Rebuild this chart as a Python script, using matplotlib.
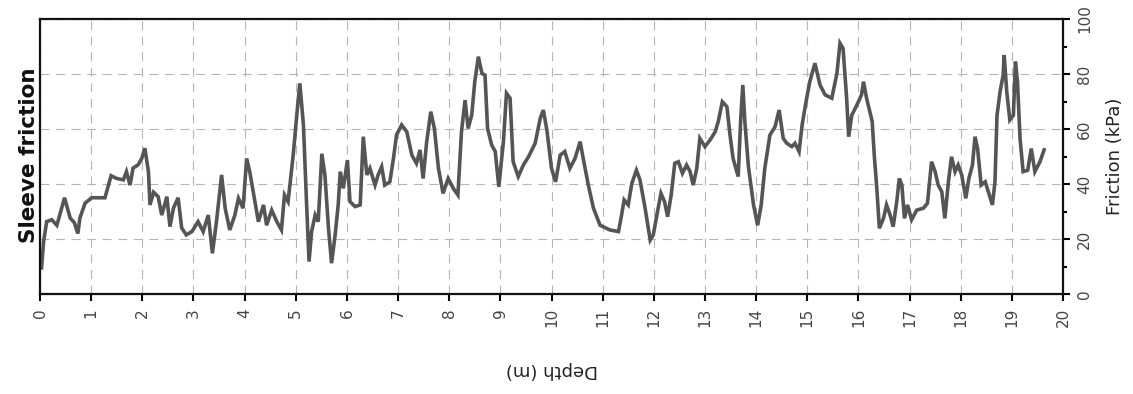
import matplotlib
matplotlib.use("Agg")
import matplotlib.pyplot as plt
from matplotlib.ticker import MultipleLocator

depth = [0.03, 0.07, 0.13, 0.23, 0.33, 0.48, 0.59, 0.67, 0.74, 0.78, 0.88, 1.01, 1.27, 1.39, 1.5,
         1.63, 1.69, 1.76, 1.82, 1.92, 1.99, 2.05, 2.12, 2.15, 2.22, 2.31, 2.38, 2.48, 2.54, 2.61,
         2.7, 2.77, 2.86, 2.97, 3.09, 3.19, 3.29, 3.37, 3.45, 3.55, 3.62, 3.71, 3.81, 3.88, 3.97,
         4.04, 4.1, 4.27, 4.37, 4.43, 4.53, 4.63, 4.72, 4.78, 4.85, 4.95, 5.02, 5.08, 5.15, 5.21,
         5.26, 5.31, 5.38, 5.44, 5.51, 5.57, 5.64, 5.7, 5.77, 5.83, 5.87, 5.93, 6.01, 6.06, 6.16,
         6.26, 6.32, 6.39, 6.45, 6.55, 6.61, 6.68, 6.74, 6.84, 6.91, 6.97, 7.07, 7.17, 7.27, 7.36,
         7.43, 7.49, 7.56, 7.64, 7.71, 7.79, 7.88, 7.98, 8.08, 8.17, 8.24, 8.31, 8.37, 8.44, 8.5,
         8.57, 8.64, 8.7, 8.75, 8.83, 8.9, 8.97, 9.06, 9.12, 9.19, 9.25, 9.35, 9.45, 9.55, 9.68,
         9.78, 9.84, 9.91, 10.0, 10.08, 10.17, 10.26, 10.36, 10.46, 10.56, 10.62, 10.72, 10.82,
         10.95, 11.14, 11.31, 11.37, 11.42, 11.5, 11.57, 11.66, 11.73, 11.83, 11.93, 11.99, 12.06,
         12.14, 12.21, 12.27, 12.34, 12.41, 12.48, 12.56, 12.64, 12.71, 12.77, 12.84, 12.9, 13.0,
         13.1, 13.2, 13.26, 13.34, 13.43, 13.49, 13.55, 13.65, 13.7, 13.74, 13.78, 13.85, 13.95,
         14.03, 14.1, 14.17, 14.27, 14.37, 14.45, 14.53, 14.6, 14.7, 14.76, 14.84, 14.9, 14.97,
         15.05, 15.15, 15.25, 15.35, 15.48, 15.58, 15.64, 15.7, 15.77, 15.81, 15.87, 15.97, 16.06,
         16.1, 16.16, 16.27, 16.31, 16.36, 16.41, 16.49, 16.55, 16.62, 16.68, 16.75, 16.8, 16.85,
         16.9, 16.96, 17.04, 17.14, 17.27, 17.35, 17.43, 17.5, 17.56, 17.63, 17.69, 17.76, 17.82,
         17.89, 17.95, 18.02, 18.1, 18.16, 18.23, 18.28, 18.33, 18.4, 18.48, 18.54, 18.62, 18.67,
         18.71, 18.77, 18.83, 18.85, 18.9, 18.96, 19.03, 19.07, 19.11, 19.16, 19.22, 19.31, 19.38,
         19.45, 19.55, 19.63]
friction = [9.5, 19, 26.3, 27, 25, 35, 27.6, 26, 22, 27.6, 33, 35, 35, 43, 42,
            41.5, 44.5, 39.6, 45.8, 47, 49.3, 53, 44.5, 32.4, 37, 35.4, 28.7, 35.4, 24.5, 31.3,
            35, 24, 21.5, 22.7, 26.3, 22.7, 28.7, 14.8, 26.3, 43.3, 31.2, 23.3, 28.7, 34.8, 31.2,
            49.3, 44.5, 26.3, 32.4, 25, 30.5, 26.3, 23.3, 36, 33.6, 50.5, 65, 76.6, 61.5, 33.6,
            11.8, 22.7, 28.7, 26.3, 51, 43.3, 23.9, 11.2, 21.5, 32.4, 44.5, 38.4, 48.7, 33.6, 31.8,
            32.4, 57.2, 43.3, 45.7, 39.6, 43.3, 46.3, 39.6, 40.8, 49.3, 57.8, 61.5, 59, 50.5, 47.5,
            52.4, 42, 55.4, 66.3, 60.2, 45.7, 36.6, 42, 38.4, 36, 59, 70.5, 60.2, 65, 77.2,
            86.3, 80.2, 79.6, 60.2, 54.2, 51.8, 39, 55.4, 73, 71.2, 48.1, 42.7, 46.9, 49.9, 54.8,
            63.9, 66.9, 59.6, 45.7, 40.8, 50.5, 51.8, 45.7, 49.3, 55.4, 49.3, 39.6, 31.2,
            25, 23.3, 22.7, 28.7, 34.2, 32.4, 40.2, 45, 41.5, 31.2, 19.6, 21.5, 28.7,
            36.6, 33.6, 28.1, 36, 47.5, 48.1, 43.9, 46.9, 44.5, 39.6, 45.7, 56.6, 53.6,
            56, 59, 62.7, 69.9, 68.1, 57.8, 49.3, 42.7, 63.9, 76, 62.7, 46.3, 32.4,
            25, 32.4, 45.7, 57.8, 60.8, 66.9, 56.6, 54.8, 53.6, 54.8, 51.8, 61.5, 69.3,
            77.2, 83.9, 76, 72.4, 71.2, 80.2, 91.2, 89.3, 71.2, 57.2, 65, 68.7, 72.4,
            77.2, 71.2, 62.7, 50.5, 38.4, 23.9, 27.5, 32.4, 28.7, 24.5, 33.6, 42, 39.6,
            27.5, 32.4, 27, 30.5, 31.2, 33, 48.1, 44.5, 39.6, 37.2, 27.5, 40.8, 49.9,
            44.5, 46.9, 43.3, 34.8, 42, 46.9, 57.2, 52.9, 39.6, 40.8, 37.2, 32.4, 40.8,
            65, 73.6, 79.6, 86.9, 73.6, 63.3, 65, 84.5, 77.2, 56.6, 44.5, 45, 52.9,
            44.5, 48.1, 52.4]

depth_ticks = list(range(0, 21))
friction_ticks = [0, 20, 40, 60, 80, 100]

fig = plt.figure(figsize=(11.33, 3.94), dpi=100)
ax = fig.add_axes([40 / 1133, 100 / 394, 1023 / 1133, 275 / 394])

ax.plot(depth, friction, color="#555555", lw=2.6, solid_joinstyle="miter")

ax.set_xlim(0, 20)
ax.set_ylim(0, 100)
ax.set_xticks(depth_ticks)
ax.set_xticklabels([str(t) for t in depth_ticks], rotation=90, fontsize=11, color="#444444")
ax.yaxis.tick_right()
ax.set_yticks(friction_ticks)
ax.set_yticklabels([str(t) for t in friction_ticks], rotation=90, va="center",
                   fontsize=11, color="#444444")
ax.yaxis.set_minor_locator(MultipleLocator(10))
ax.tick_params(axis="x", direction="out", length=5, width=1.5, pad=5)
ax.tick_params(axis="y", which="major", direction="out", length=5, width=1.5, pad=5)
ax.tick_params(axis="y", which="minor", direction="out", length=3, width=1.5)

ax.grid(True, which="major", color="#b5b5b5", lw=0.8, linestyle=(0, (8, 6)))

for s in ax.spines.values():
    s.set_linewidth(1.6)
    s.set_color("#111111")

ax.set_xlabel("Depth (m)", rotation=180, fontsize=13, color="#222222", labelpad=24)
ax.yaxis.set_label_position("right")
ax.set_ylabel("Friction (kPa)", rotation=90, fontsize=13, color="#222222", labelpad=10)

fig.text(0.026, 0.607, "Sleeve friction", rotation=90, fontsize=15.5, fontweight="bold",
         ha="center", va="center", color="#111111")

fig.savefig("out.png", dpi=100)
